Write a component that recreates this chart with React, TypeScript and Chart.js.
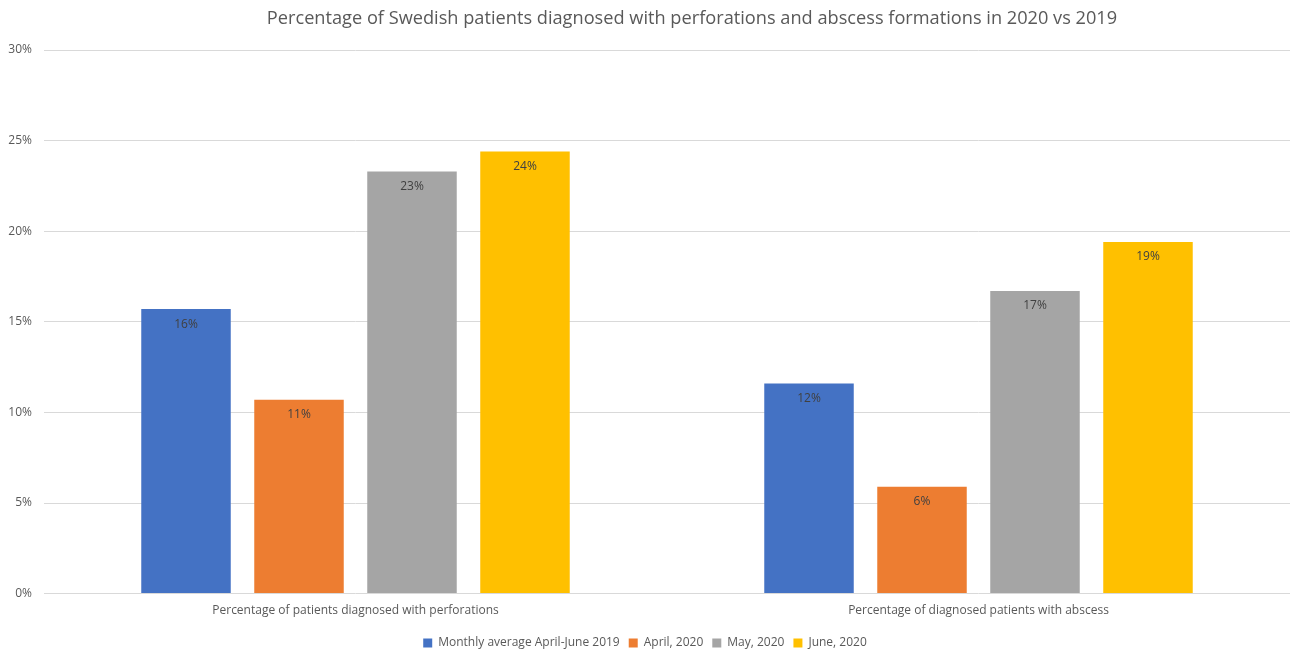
import React, { useEffect, useRef } from "react";
import { Chart, registerables } from "chart.js";

Chart.register(...registerables);

const TITLE =
  "Percentage of Swedish patients diagnosed with perforations and abscess formations in 2020 vs 2019";

const categories = [
  "Percentage of patients diagnosed with perforations",
  "Percentage of diagnosed patients with abscess",
];

const seriesNames = ["Monthly average April-June 2019", "April, 2020", "May, 2020", "June, 2020"];

// percentage values per category (perforations, abscess)
const avg2019 = [15.7, 11.6];
const april2020 = [10.7, 5.9];
const may2020 = [23.3, 16.7];
const june2020 = [24.4, 19.4];

const seriesColors = ["#4472C4", "#ED7D31", "#A5A5A5", "#FFC000"];

const yTicks = [0, 5, 10, 15, 20, 25, 30];

const FONT = "'Open Sans', 'Noto Sans', sans-serif";
const TEXT_COLOR = "#595959";

// Title drawn centred above the plot
const titlePlugin = {
  id: "topTitle",
  afterDraw(chart: any) {
    const { ctx } = chart;
    ctx.save();
    ctx.font = `18.2px ${FONT}`;
    ctx.fillStyle = TEXT_COLOR;
    ctx.textAlign = "center";
    ctx.textBaseline = "middle";
    ctx.fillText(TITLE, 692, 19);
    ctx.restore();
  },
};

// Rounded percentage labels inside the top of each bar
const barLabelPlugin = {
  id: "barLabels",
  afterDatasetsDraw(chart: any) {
    const { ctx } = chart;
    ctx.save();
    ctx.font = `12px ${FONT}`;
    ctx.fillStyle = "#404040";
    ctx.textAlign = "center";
    ctx.textBaseline = "middle";
    chart.data.datasets.forEach((ds: any, i: number) => {
      const meta = chart.getDatasetMeta(i);
      meta.data.forEach((bar: any, j: number) => {
        const v = ds.data[j] as number;
        ctx.fillText(`${Math.round(v)}%`, bar.x, bar.y + 15);
      });
    });
    ctx.restore();
  },
};

export default function App() {
  const canvasRef = useRef<HTMLCanvasElement | null>(null);

  useEffect(() => {
    if (!canvasRef.current) return;
    const values = [avg2019, april2020, may2020, june2020];
    const chart = new Chart(canvasRef.current, {
      type: "bar",
      data: {
        labels: categories,
        datasets: seriesNames.map((name, i) => ({
          label: name,
          data: values[i],
          backgroundColor: seriesColors[i],
          borderWidth: 0,
          categoryPercentage: 0.7255,
          barPercentage: 0.792,
        })),
      },
      options: {
        responsive: false,
        animation: false,
        devicePixelRatio: 1,
        layout: { padding: { top: 50, right: 0, bottom: -9, left: 0 } },
        plugins: {
          title: { display: false },
          tooltip: { enabled: false },
          legend: {
            display: true,
            position: "bottom",
            labels: {
              boxWidth: 9,
              boxHeight: 9,
              padding: 9,
              color: TEXT_COLOR,
              font: { family: FONT, size: 12 },
            },
          },
        },
        scales: {
          x: {
            grid: { display: false, drawTicks: false },
            border: { display: false },
            ticks: {
              color: TEXT_COLOR,
              font: { family: FONT, size: 12 },
              padding: 10,
            },
          },
          y: {
            min: 0,
            max: 30,
            afterFit(scale: any) {
              scale.width = 44;
            },
            afterBuildTicks(scale: any) {
              scale.ticks = yTicks.map((v) => ({ value: v }));
            },
            grid: { color: "#D9D9D9", lineWidth: 1, drawTicks: false },
            border: { display: false },
            ticks: {
              color: TEXT_COLOR,
              font: { family: FONT, size: 12 },
              padding: 12,
              callback: (v: any) => `${v}%`,
            },
          },
        },
      },
      plugins: [titlePlugin, barLabelPlugin],
    });
    return () => chart.destroy();
  }, []);

  return (
    <div style={{ position: "absolute", left: 0, top: 0, width: 1290, height: 650, background: "#fff" }}>
      <canvas ref={canvasRef} width={1290} height={650} style={{ width: 1290, height: 650, display: "block" }} />
    </div>
  );
}
